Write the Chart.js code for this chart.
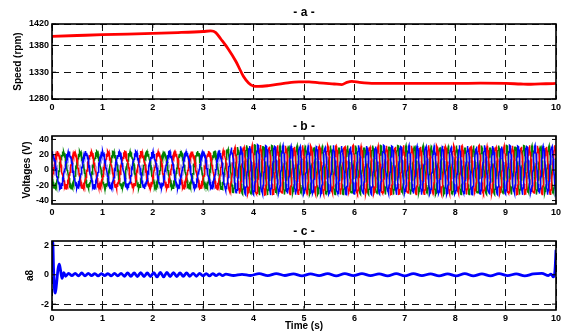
<!DOCTYPE html>
<html>
<head>
<meta charset="utf-8">
<script src="https://cdn.jsdelivr.net/npm/chart.js@4"></script>
<style>
html, body { margin: 0; padding: 0; background: #fff; }
#wrap { position: relative; width: 567px; height: 333px; }
canvas { position: absolute; left: 0; }
</style>
</head>
<body>
<div id="wrap">
  <canvas id="speedChart" width="567" height="115" style="top:0px"></canvas>
  <canvas id="voltChart" width="567" height="105" style="top:115px"></canvas>
  <canvas id="a8Chart" width="567" height="113" style="top:220px"></canvas>
</div>
<script>
// time axis
const timeTicks = [0, 1, 2, 3, 4, 5, 6, 7, 8, 9, 10];

// - a - speed (rpm)
const speedTime = [0, 0.5, 1, 1.5, 2, 2.5, 3, 3.15, 3.25, 3.35, 3.5, 3.65, 3.8, 3.9, 4.0, 4.1, 4.3, 4.6, 4.9, 5.1, 5.3, 5.6, 5.75, 5.85, 5.95, 6.1, 6.4, 7, 7.5, 8, 8.5, 9, 9.3, 9.5, 9.8, 10];
const speedRpm = [1397, 1398.5, 1400, 1401, 1402.5, 1404, 1406, 1407, 1404, 1392, 1373, 1350, 1322, 1310, 1304, 1303.5, 1305, 1309, 1312, 1312, 1310, 1308, 1307, 1311, 1313, 1311, 1309, 1309, 1309, 1309, 1309.5, 1309, 1308, 1307.5, 1308.5, 1309];
const speedTicks = [1280, 1330, 1380, 1420];

// - b - voltages: envelope
const voltTime   = [0, 3.2, 3.4, 3.6, 3.8, 4.0, 4.5, 10];
const voltAmp    = [22, 22, 24, 27, 30, 31, 30, 30];
const voltFreq   = [3, 3, 4, 5, 6, 6, 6, 6];
const voltRipple = [3, 3, 3, 3, 2.5, 2.5, 2.5, 2.5];
const paleAmp    = [7, 7, 9, 11, 12, 12, 12, 12];
const voltTicks = [-40, -20, 0, 20, 40];

// - c - a8
const a8Time = [0, 0.015, 0.03, 0.05, 0.066, 0.09, 0.12, 0.145, 0.17, 0.2, 0.235, 0.27,
  0.33, 0.395, 0.46, 0.525, 0.59, 0.655, 0.72, 0.785, 0.85, 0.915, 0.98, 1.045, 1.11, 1.175, 1.24, 1.305, 1.37, 1.435,
  1.5, 1.565, 1.63, 1.695, 1.76, 1.825, 1.89, 1.955, 2.02, 2.085, 2.15, 2.215, 2.28, 2.345, 2.41, 2.475, 2.54, 2.605,
  2.67, 2.735, 2.8, 2.865, 2.93, 2.995, 3.06, 3.125, 3.19, 3.255, 3.32, 3.385, 3.45,
  3.6, 3.77, 3.94, 4.11, 4.28, 4.45, 4.62, 4.79, 4.96, 5.13, 5.3, 5.47, 5.64, 5.81, 5.98, 6.15, 6.32, 6.49, 6.66, 6.83,
  7.0, 7.17, 7.34, 7.51, 7.68, 7.85, 8.02, 8.19, 8.36, 8.53, 8.7, 8.87, 9.04, 9.21, 9.38, 9.55, 9.72, 9.85, 9.9, 9.95, 9.98, 10];
const a8Value = [2.3, 2.3, 0.5, -1.0, -1.25, -0.6, 0.4, 0.72, 0.3, -0.25, 0.15, -0.1,
  0.1, -0.06, 0.1, -0.08, 0.12, -0.08, 0.1, -0.06, 0.08, -0.08, 0.08, -0.06, 0.08, -0.08, 0.1, -0.08, 0.1, -0.1,
  0.12, -0.1, 0.12, -0.12, 0.15, -0.12, 0.12, -0.12, 0.15, -0.15, 0.16, -0.15, 0.16, -0.12, 0.15, -0.12, 0.12, -0.1,
  0.12, -0.1, 0.1, -0.1, 0.1, -0.08, 0.08, -0.08, 0.08, -0.06, 0.06, -0.06, 0.04,
  -0.05, 0.03, -0.05, 0.08, -0.06, 0.08, -0.05, 0.06, -0.08, 0.06, -0.06, 0.08, -0.08, 0.08, -0.06, 0.08, -0.06, 0.06, -0.08, 0.08,
  -0.08, 0.08, -0.06, 0.06, -0.08, 0.06, -0.08, 0.08, -0.08, 0.06, -0.08, 0.08, -0.06, 0.06, -0.08, 0.06, 0.1, -0.05, 0.05, -0.15, 0.3, 1.7];
const a8Ticks = [-2, 0, 2];

const FONT = '"Liberation Sans", Arial, sans-serif';

function pairs(xs, ys) {
  return xs.map((x, i) => ({ x: x, y: ys[i] }));
}

function envAt(arr, t) {
  for (let i = 1; i < voltTime.length; i++) {
    if (t <= voltTime[i]) {
      const f = (t - voltTime[i - 1]) / (voltTime[i] - voltTime[i - 1]);
      return arr[i - 1] + f * (arr[i] - arr[i - 1]);
    }
  }
  return arr[arr.length - 1];
}

// build the three phases from the envelope
const phaseShift = [0, -2 * Math.PI / 3, 2 * Math.PI / 3];
const waves = [[], [], [], []];
const dt = 0.004;
let ph = Math.PI / 2;
for (let i = 0; i <= 2500; i++) {
  const t = i * dt;
  const A = envAt(voltAmp, t), r = envAt(voltRipple, t), p = envAt(paleAmp, t);
  for (let k = 0; k < 3; k++) {
    waves[k].push({ x: t, y: A * Math.sin(ph + phaseShift[k]) + r * Math.sin(2 * Math.PI * 38 * t + k) });
  }
  waves[3].push({ x: t, y: p * Math.sin(2 * Math.PI * 13 * t) });
  ph += 2 * Math.PI * envAt(voltFreq, t) * dt;
}

// frame, inward ticks and the panel title
const framePlugin = {
  id: 'frame',
  afterDraw(chart, args, opts) {
    const { ctx, chartArea: a, scales } = chart;
    ctx.save();
    ctx.strokeStyle = '#000';
    ctx.lineWidth = 1;
    ctx.beginPath();
    scales.x.ticks.forEach(t => {
      const px = scales.x.getPixelForValue(t.value);
      ctx.moveTo(px, a.top); ctx.lineTo(px, a.top + 4);
      ctx.moveTo(px, a.bottom); ctx.lineTo(px, a.bottom - 4);
    });
    scales.y.ticks.forEach(t => {
      const py = scales.y.getPixelForValue(t.value);
      ctx.moveTo(a.left, py); ctx.lineTo(a.left + 4, py);
      ctx.moveTo(a.right, py); ctx.lineTo(a.right - 4, py);
    });
    ctx.stroke();
    ctx.lineWidth = 1.6;
    ctx.strokeRect(a.left, a.top, a.right - a.left, a.bottom - a.top);
    ctx.fillStyle = '#000';
    ctx.font = 'bold 12px ' + FONT;
    ctx.textAlign = 'center';
    ctx.textBaseline = 'middle';
    ctx.fillText(opts.title, (a.left + a.right) / 2, opts.titleY);
    ctx.restore();
  }
};

function makeOptions(cfg) {
  const dashed = { display: false, dash: [7, 5] };
  return {
    responsive: false,
    animation: false,
    events: [],
    layout: { padding: { left: 0, right: 11, top: cfg.padTop, bottom: 0 } },
    plugins: {
      legend: { display: false },
      tooltip: { enabled: false },
      frame: { title: cfg.title, titleY: cfg.titleY }
    },
    scales: {
      x: {
        type: 'linear',
        min: 0,
        max: 10,
        afterBuildTicks: s => { s.ticks = timeTicks.map(v => ({ value: v })); },
        afterFit: s => { s.height = cfg.xHeight; },
        ticks: { color: '#000', padding: 3, callback: v => String(v), font: { family: FONT, size: 9, weight: 'bold' } },
        grid: { display: cfg.grid, drawTicks: false, color: '#111', lineWidth: 1 },
        border: dashed,
        title: {
          display: !!cfg.xTitle,
          text: cfg.xTitle || '',
          color: '#000',
          padding: { top: 0, bottom: 1 },
          font: { family: FONT, size: 10, weight: 'bold' }
        }
      },
      y: {
        min: cfg.yMin,
        max: cfg.yMax,
        afterBuildTicks: s => { s.ticks = cfg.yTicks.map(v => ({ value: v })); },
        afterFit: s => { s.width = 52; },
        ticks: { color: '#000', padding: 3, callback: v => String(v), font: { family: FONT, size: 9, weight: 'bold' } },
        grid: {
          display: cfg.grid,
          drawTicks: false,
          lineWidth: 1,
          color: ctx => (cfg.yNoGrid.includes(ctx.tick && ctx.tick.value) ? 'rgba(0,0,0,0)' : '#111')
        },
        border: dashed,
        title: {
          display: true,
          text: cfg.yTitle,
          color: '#000',
          padding: { top: cfg.yTitlePad, bottom: 0 },
          font: { family: FONT, size: 10, weight: 'bold' }
        }
      }
    }
  };
}

new Chart(document.getElementById('speedChart'), {
  type: 'line',
  data: {
    datasets: [{
      data: pairs(speedTime, speedRpm),
      borderColor: '#ff0000',
      borderWidth: 2.8,
      pointRadius: 0,
      cubicInterpolationMode: 'monotone'
    }]
  },
  options: makeOptions({
    padTop: 24, xHeight: 16, yMin: 1280, yMax: 1420, yTicks: speedTicks, yNoGrid: [],
    yTitle: 'Speed (rpm)', yTitlePad: 12, grid: true, title: '- a -', titleY: 13
  }),
  plugins: [framePlugin]
});

new Chart(document.getElementById('voltChart'), {
  type: 'line',
  data: {
    datasets: [
      { data: waves[0], borderColor: '#0000ff', borderWidth: 1.5, pointRadius: 0 },
      { data: waves[1], borderColor: '#ff0000', borderWidth: 1.5, pointRadius: 0 },
      { data: waves[2], borderColor: '#008000', borderWidth: 1.5, pointRadius: 0 },
      { data: waves[3], borderColor: 'rgba(180,160,220,0.85)', borderWidth: 1, pointRadius: 0 }
    ]
  },
  options: makeOptions({
    padTop: 21, xHeight: 16, yMin: -44.5, yMax: 44.5, yTicks: voltTicks, yNoGrid: [],
    yTitle: 'Voltages (V)', yTitlePad: 21, grid: false, title: '- b -', titleY: 11.5
  }),
  plugins: [framePlugin]
});

new Chart(document.getElementById('a8Chart'), {
  type: 'line',
  data: {
    datasets: [{
      data: pairs(a8Time, a8Value),
      borderColor: '#0000ff',
      borderWidth: 2.8,
      pointRadius: 0,
      cubicInterpolationMode: 'monotone'
    }]
  },
  options: makeOptions({
    padTop: 21, xHeight: 23, yMin: -2.4, yMax: 2.3, yTicks: a8Ticks, yNoGrid: [0],
    yTitle: 'a8', yTitlePad: 24, grid: true, title: '- c -', titleY: 11.5, xTitle: 'Time (s)'
  }),
  plugins: [framePlugin]
});
</script>
</body>
</html>
